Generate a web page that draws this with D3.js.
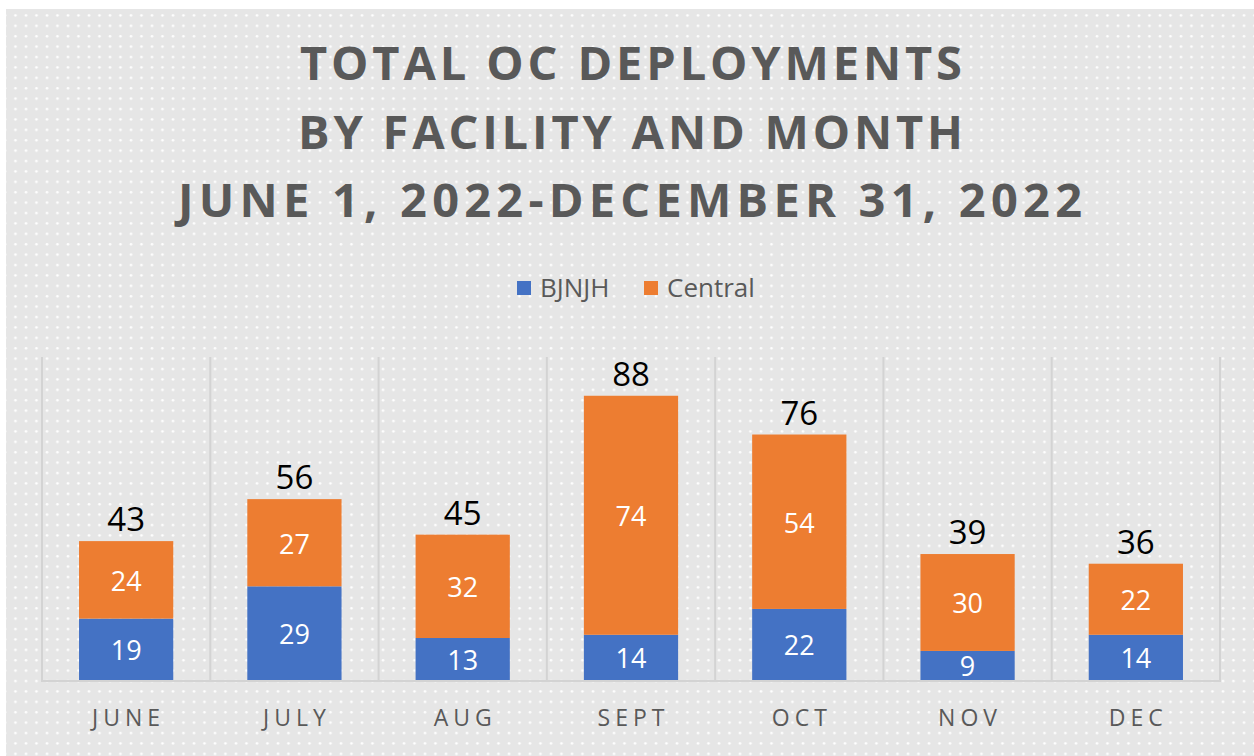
<!DOCTYPE html>
<html lang="en">
<head>
  <meta charset="UTF-8">
  <title>Total OC Deployments by Facility and Month</title>
  <script src="https://d3js.org/d3.v7.min.js"></script>
  <style>
    body { margin: 0; background: #ffffff; }
    text { font-family: "Open Sans", "Noto Sans", sans-serif; }
  </style>
</head>
<body>
  <div id="chart"></div>
  <script>
    // data
    const months = ["JUNE", "JULY", "AUG", "SEPT", "OCT", "NOV", "DEC"];
    const bjnjh = [19, 29, 13, 14, 22, 9, 14];
    const central = [24, 27, 32, 74, 54, 30, 22];
    const seriesNames = ["BJNJH", "Central"];
    const seriesColors = ["#4472C4", "#ED7D31"];
    const titleLines = [
      "TOTAL OC DEPLOYMENTS",
      "BY FACILITY AND MONTH",
      "JUNE 1, 2022-DECEMBER 31, 2022"
    ];

    const W = 1254, H = 756;
    const plot = { left: 42, right: 1220, top: 357, bottom: 680 };

    const svg = d3.select("#chart").append("svg")
      .attr("width", W)
      .attr("height", H);

    // dotted background
    const defs = svg.append("defs");
    const pat = defs.append("pattern")
      .attr("id", "dots")
      .attr("patternUnits", "userSpaceOnUse")
      .attr("width", 10.5)
      .attr("height", 10.4);
    pat.append("rect").attr("width", 10.5).attr("height", 10.4).attr("fill", "#e6e6e6");
    pat.append("circle").attr("cx", 5).attr("cy", 5).attr("r", 1.3).attr("fill", "#ffffff");

    svg.append("rect")
      .attr("x", 6).attr("y", 9)
      .attr("width", W - 6).attr("height", H - 9)
      .attr("fill", "url(#dots)");

    // title
    const titleBase = [80, 149, 217];
    const titleX = [[300, 962], [298, 963], [178, 1082]];
    svg.selectAll("text.title")
      .data(titleLines)
      .enter().append("text")
      .attr("class", "title")
      .attr("x", (d, i) => titleX[i][0])
      .attr("y", (d, i) => titleBase[i])
      .attr("textLength", (d, i) => titleX[i][1] - titleX[i][0])
      .attr("lengthAdjust", "spacing")
      .attr("font-size", "47px")
      .attr("font-weight", "bold")
      .attr("fill", "#595959")
      .text(d => d);

    // legend
    const legendItems = [{ x: 517, tx: 540 }, { x: 644, tx: 667 }];
    const legend = svg.append("g");
    legend.selectAll("rect")
      .data(seriesNames)
      .enter().append("rect")
      .attr("x", (d, i) => legendItems[i].x)
      .attr("y", 281)
      .attr("width", 14)
      .attr("height", 14)
      .attr("fill", (d, i) => seriesColors[i]);
    legend.selectAll("text")
      .data(seriesNames)
      .enter().append("text")
      .attr("x", (d, i) => legendItems[i].tx)
      .attr("y", 297)
      .attr("font-size", "26px")
      .attr("fill", "#595959")
      .text(d => d);

    // scales
    const x = d3.scaleBand()
      .domain(months)
      .range([plot.left, plot.right])
      .paddingInner(0)
      .paddingOuter(0);

    const y = d3.scaleLinear()
      .domain([0, 100])
      .range([plot.bottom, plot.top]);

    const barW = x.bandwidth() * 0.56;

    // category separators
    const sepPositions = months.map(m => x(m)).concat([plot.right]);
    svg.append("g").selectAll("line")
      .data(sepPositions)
      .enter().append("line")
      .attr("x1", d => d).attr("x2", d => d)
      .attr("y1", plot.top).attr("y2", plot.bottom)
      .attr("stroke", "#d3d3d3")
      .attr("stroke-width", 2);

    svg.append("line")
      .attr("x1", plot.left - 1).attr("x2", plot.right + 1)
      .attr("y1", plot.bottom + 1).attr("y2", plot.bottom + 1)
      .attr("stroke", "#d3d3d3")
      .attr("stroke-width", 2);

    // stacked bars
    const rows = months.map((m, i) => ({ month: m, BJNJH: bjnjh[i], Central: central[i] }));
    const stacked = d3.stack().keys(seriesNames)(rows);

    const layers = svg.append("g").selectAll("g.layer")
      .data(stacked)
      .enter().append("g")
      .attr("class", "layer")
      .attr("fill", (d, i) => seriesColors[i]);

    layers.selectAll("rect")
      .data(d => d)
      .enter().append("rect")
      .attr("x", d => x(d.data.month) + (x.bandwidth() - barW) / 2)
      .attr("y", d => y(d[1]))
      .attr("width", barW)
      .attr("height", d => y(d[0]) - y(d[1]));

    // segment labels
    layers.selectAll("text")
      .data(d => d.map(v => ({ v: v, key: d.key })))
      .enter().append("text")
      .attr("x", d => x(d.v.data.month) + x.bandwidth() / 2)
      .attr("y", d => (y(d.v[0]) + y(d.v[1])) / 2 + 11)
      .attr("text-anchor", "middle")
      .attr("font-size", "27px")
      .attr("fill", "#ffffff")
      .text(d => d.v.data[d.key]);

    // totals
    svg.append("g").selectAll("text")
      .data(rows)
      .enter().append("text")
      .attr("x", d => x(d.month) + x.bandwidth() / 2)
      .attr("y", d => y(d.BJNJH + d.Central) - 10)
      .attr("text-anchor", "middle")
      .attr("font-size", "33px")
      .attr("fill", "#000000")
      .text(d => d.BJNJH + d.Central);

    // month labels
    svg.append("g").selectAll("text")
      .data(months)
      .enter().append("text")
      .attr("x", d => x(d) + x.bandwidth() / 2 + 2.5)
      .attr("y", 726)
      .attr("text-anchor", "middle")
      .attr("font-size", "23px")
      .attr("letter-spacing", "5px")
      .attr("fill", "#595959")
      .text(d => d);
  </script>
</body>
</html>
